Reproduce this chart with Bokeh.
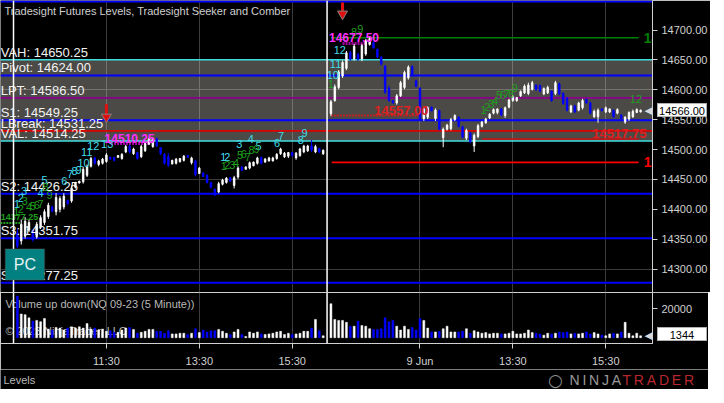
from bokeh.plotting import figure
from bokeh.models import (Range1d, FixedTicker, PrintfTickFormatter, Label, Grid,
                          BoxAnnotation, ColumnDataSource, Span, Div)
from bokeh.layouts import column
from bokeh.core.properties import value
from bokeh.embed import file_html
from bokeh.resources import INLINE

# ---------------- data ----------------
# 5-minute NQ 09-23 bars, session 1 (8 Jun) bars 1..80, session 2 (9 Jun) bars 82..162
s1_open = [14360,14347,14355,14365,14365,14354,14370,14378,14388,14404,
           14396,14400,14404,14415,14414,14437,14444,14446,14457,14472,
           14486,14475,14477,14480,14487,14487,14487,14485,14496,14506,
           14493,14495,14488,14498,14509,14505,14518,14503,14492,14488,
           14476,14477,14480,14482,14490,14478,14481,14460,14461,14457,
           14445,14434,14429,14442,14445,14453,14440,14454,14471,14467,
           14469,14473,14477,14487,14479,14481,14481,14485,14493,14488,
           14489,14495,14486,14490,14496,14498,14506,14496,14502,14493]
s1_close = [14338,14375,14380,14378,14349,14375,14386,14396,14407,14397,
            14420,14418,14422,14409,14436,14444,14447,14467,14472,14485,
            14477,14481,14484,14491,14484,14482,14490,14492,14505,14496,
            14501,14485,14505,14510,14518,14518,14506,14493,14477,14474,
            14482,14484,14485,14489,14487,14486,14458,14469,14455,14445,
            14437,14424,14443,14449,14452,14447,14453,14469,14465,14471,
            14478,14479,14486,14477,14484,14486,14486,14492,14501,14494,
            14495,14490,14494,14501,14506,14506,14499,14505,14496,14499]
s1_high = [14367,14383,14387,14383,14367,14379,14390,14400,14411,14406,
           14427,14422,14427,14416,14440,14446,14448,14471,14475,14488,
           14488,14483,14486,14494,14488,14488,14491,14494,14508,14508,
           14503,14496,14508,14512,14520,14520,14520,14504,14494,14494,
           14483,14486,14486,14491,14491,14488,14483,14471,14462,14459,
           14446,14435,14446,14451,14454,14454,14456,14472,14472,14472,
           14480,14480,14488,14488,14486,14488,14488,14494,14503,14496,
           14496,14496,14496,14503,14508,14508,14516,14508,14503,14500]
s1_low = [14335,14341,14351,14362,14346,14351,14367,14374,14384,14395,
          14390,14395,14400,14408,14411,14435,14443,14443,14454,14470,
          14475,14472,14475,14478,14483,14480,14486,14483,14494,14494,
          14491,14483,14486,14496,14508,14503,14504,14491,14475,14471,
          14475,14475,14478,14480,14486,14475,14455,14459,14454,14443,
          14435,14422,14427,14440,14443,14446,14435,14451,14464,14467,
          14467,14472,14475,14475,14478,14480,14480,14483,14491,14486,
          14486,14488,14483,14488,14494,14496,14496,14494,14494,14491]
s1_volume = [28860,16430,15980,13760,11540,11990,11100,13320,5990,5330,
             7100,6660,5330,6660,7550,6660,7550,6660,9770,5990,
             6660,5330,5990,4440,4880,3770,3770,5330,6660,7100,
             5770,3110,3770,4440,5770,5770,4440,4440,3110,4880,
             2660,2660,3110,3110,2220,3110,6220,3550,5330,4000,
             4880,4880,5770,4440,3110,2220,4000,5770,2220,890,
             4000,3110,4000,2660,2220,2660,3110,4000,4440,2220,
             3110,2220,2660,3110,4440,4440,6660,12650,4880,1330]

s2_open = [14560,14582,14604,14623,14636,14663,14652,14660,14652,14660,
           14676,14679,14668,14655,14640,14603,14582,14578,14590,14604,
           14620,14639,14615,14603,14552,14554,14571,14552,14565,14520,
           14534,14535,14550,14554,14538,14519,14528,14506,14522,14539,
           14545,14553,14561,14562,14568,14557,14571,14582,14582,14590,
           14595,14594,14601,14608,14607,14593,14595,14598,14594,14610,
           14594,14586,14563,14573,14566,14570,14584,14578,14555,14555,
           14568,14563,14563,14566,14561,14558,14546,14551,14555,14562,
           14563]
s2_close = [14580,14605,14630,14646,14662,14651,14673,14651,14674,14682,
            14686,14670,14655,14643,14596,14582,14578,14590,14612,14629,
            14638,14626,14606,14550,14568,14570,14565,14566,14534,14534,
            14541,14550,14557,14539,14521,14532,14513,14524,14540,14546,
            14551,14559,14567,14568,14558,14570,14583,14589,14587,14597,
            14606,14608,14612,14600,14598,14602,14604,14582,14612,14593,
            14577,14566,14573,14563,14578,14582,14578,14561,14564,14566,
            14565,14570,14568,14555,14567,14552,14554,14562,14564,14567,
            14566]
s2_high = [14583,14609,14633,14649,14665,14665,14677,14661,14677,14685,
           14688,14680,14669,14656,14641,14607,14583,14593,14615,14632,
           14641,14641,14617,14604,14572,14572,14572,14569,14567,14537,
           14543,14553,14559,14556,14540,14535,14529,14527,14543,14548,
           14553,14561,14569,14569,14569,14572,14585,14591,14588,14599,
           14609,14612,14615,14609,14609,14604,14607,14599,14615,14612,
           14596,14588,14575,14575,14580,14585,14585,14580,14567,14569,
           14569,14572,14569,14567,14569,14559,14556,14564,14567,14569,
           14567]
s2_low = [14556,14580,14601,14620,14633,14649,14649,14649,14648,14657,
          14674,14669,14653,14641,14593,14580,14577,14575,14588,14601,
          14617,14624,14604,14548,14548,14551,14564,14548,14532,14504,
          14532,14532,14548,14537,14519,14516,14511,14496,14519,14537,
          14543,14551,14559,14559,14556,14553,14569,14580,14580,14588,
          14593,14591,14599,14599,14596,14591,14593,14580,14591,14591,
          14575,14564,14561,14561,14564,14567,14577,14559,14553,14545,
          14564,14561,14561,14553,14559,14551,14543,14548,14553,14561,
          14562]
s2_volume = [23530,12650,11990,11990,10660,7990,
             7990,11540,8440,7990,6220,5770,5770,6220,13760,11100,
             11990,7990,5330,7990,5770,7100,5330,13320,11990,6660,
             4000,4000,4440,6220,7990,4000,4000,4000,4440,6220,
             3110,4880,4000,3110,3550,2660,3110,3110,2660,2660,
             3110,4440,2660,2660,3110,5330,3550,3110,2660,1780,
             3110,2660,3110,4000,3550,4000,2660,3110,2660,3110,
             4000,2660,3550,2660,1780,1330,2660,3110,2660,4000,
             10660,3110,1330,3110,1344]

s1_bars = list(range(1, 81))
s2_bars = list(range(82, 163))
session_breaks = [0, 81]

level_names = ["VAH", "Pivot", "LPT", "S1", "LBreak", "VAL", "S2", "S3", "S4"]
level_values = [14650.25, 14624.00, 14586.50, 14549.25, 14531.25, 14514.25,
                14426.25, 14351.75, 14277.25]
upper_level = 14748.0

time_tick_bars = [24, 48, 72, 105, 129, 153]
time_tick_labels = ["11:30", "13:30", "15:30", "9 Jun", "13:30", "15:30"]
price_ticks = [14300, 14350, 14400, 14450, 14500, 14550, 14600, 14650, 14700]
price_grid = [14300, 14450, 14600]
volume_ticks = [20000]
last_price = 14566.00
last_volume = 1344

# Seeker / Comber count annotations (bar, price)
cyan_text = ["1","2","3","4","5","6","7","8","9","10","11","12","13",
             "1","2","3","4","5","6","7","8","9","12","11","10"]
cyan_bar = [0.9,1.9,2.7,7.0,8.0,13.1,14.6,15.8,16.8,18.1,18.9,20.6,24.2,
            54.2,55.2,58.3,61.3,63.3,68.1,69.1,74.2,75.2,84.3,83.2,82.5]
cyan_price = [14409,14419,14430,14427,14449,14448,14459,14464,14466,14477,14496,14506,14509,
              14488,14488,14509,14517,14506,14511,14522,14516,14528,14666,14643,14625]
green_text = ["1","2","3","4","5","6","7","8","9",
              "1","2","3","4","5","6","7","8","9",
              "1","8","9",
              "1","2","3","4","5","6","7","8","9","12"]
green_bar = [0.7,1.9,2.9,4.0,5.0,6.0,7.0,8.3,9.3,
             54.3,55.2,56.5,57.5,58.5,59.5,60.5,61.5,62.8,
             82.0,88.0,89.6,
             121.4,122.4,123.4,124.4,125.4,126.4,127.4,128.5,129.5,160.8]
green_price = [14396,14401,14414,14404,14406,14408,14409,14437,14424,
               14472,14475,14475,14477,14491,14493,14488,14499,14501,
               14609,14696,14701,
               14567,14572,14577,14582,14591,14591,14593,14593,14603,14585]

# target / stop levels: (label, price, bar_start, bar_end)
tgt_labels = ["14377.25", "14510.25", "14677.50", "14557.00", "14517.75", "14687.25", "14478.50"]
tgt_price = [14377.25, 14510.25, 14677.50, 14557.00, 14517.75, 14687.25, 14478.50]
tgt_start = [-3.4, 25.2, 85.0, 82.0, 121.1, 82.0, 82.2]
tgt_end = [1.7, 35.0, 91.3, 105.2, 161.5, 161.5, 161.5]
tgt_text_bar = [-3.3, 30.0, 81.5, 100.2, 156.5, 162.8, 162.8]
tgt_text_price = [14387, 14519, 14687, 14565, 14527, 14687.25, 14478.5]

arrow_bar = [24, 85]
arrow_tip = [14549.5, 14722.0]
arrow_top = [14576.0, 14746.0]

# ---------------- layout constants ----------------
x_lo, x_hi = -3.36, 165.07
price_lo, price_hi = 14260.8, 14749.5
vol_lo, vol_hi = -4000, 31333
FW = 652
RB = 56
PH, VH = 292, 51
FONT = "Liberation Sans"
UP, DOWN = "#ffffff", "#0000ff"
AX = "#d0d0d0"

assert len(s1_open) == len(s1_close) == len(s1_high) == len(s1_low) == len(s1_volume) == 80
assert len(s2_open) == len(s2_close) == len(s2_high) == len(s2_low) == len(s2_volume) == 81

xs = s1_bars + s2_bars
op = s1_open + s2_open
cl = s1_close + s2_close
hi = s1_high + s2_high
lo = s1_low + s2_low
vol = s1_volume + s2_volume
col = [UP if c >= o else DOWN for o, c in zip(op, cl)]
src = ColumnDataSource(dict(x=xs, o=op, c=cl, h=hi, l=lo, v=vol, color=col,
                            top=[max(a, b) for a, b in zip(op, cl)],
                            bot=[min(a, b) for a, b in zip(op, cl)]))


def style_axis(ax):
    ax.axis_line_color = AX
    ax.major_tick_line_color = AX
    ax.major_tick_out = 5
    ax.major_tick_in = 0
    ax.minor_tick_line_color = None
    ax.major_label_text_color = AX
    ax.major_label_text_font = FONT
    ax.major_label_text_font_size = "11px"


# ---------------- price panel ----------------
p = figure(frame_width=FW, frame_height=PH, x_range=Range1d(x_lo, x_hi),
           y_range=Range1d(price_lo, price_hi), y_axis_location="right",
           x_axis_location=None, toolbar_location=None, output_backend="svg",
           min_border_left=0, min_border_right=RB, min_border_top=0, min_border_bottom=0)
p.background_fill_color = "black"
p.border_fill_color = "black"
p.outline_line_color = None
p.grid.grid_line_color = None
p.add_layout(Grid(dimension=0, ticker=FixedTicker(ticks=time_tick_bars), grid_line_color="#3c3c3c"))
p.add_layout(Grid(dimension=1, ticker=FixedTicker(ticks=price_grid), grid_line_color="#3c3c3c"))

ya = p.yaxis[0]
ya.ticker = FixedTicker(ticks=price_ticks)
ya.formatter = PrintfTickFormatter(format="%.2f")
style_axis(ya)
ya.major_label_standoff = 4

# value area zone
p.quad(left=[x_lo], right=[x_hi], bottom=[level_values[5]], top=[level_values[0]],
       fill_color="#e6e2d6", fill_alpha=0.33, line_color=None)

level_colors = {"VAH": "#40e0e0", "VAL": "#40e0e0", "Pivot": "#0000ff", "S1": "#0000ff",
                "S2": "#0000ff", "S3": "#0000ff", "S4": "#0000ff", "LPT": "#8b008b",
                "LBreak": "#dd0000"}
for n, v in zip(level_names, level_values):
    p.segment(x0=[x_lo], x1=[x_hi], y0=[v], y1=[v], line_color=level_colors[n],
              line_width=2 if level_colors[n] == "#0000ff" else 1.6)
p.segment(x0=[x_lo], x1=[x_hi], y0=[upper_level], y1=[upper_level], line_color="#0000ff", line_width=2)

# target lines
tgt_styles = [("#1e9e1e", "2 1", 2), ("#a000a0", "2 1", 3), ("#a000a0", "2 1", 3),
              ("#c02020", "2 1", 2), ("#d01010", "solid", 1.6), ("#008000", "solid", 1.6),
              ("#ff0000", "solid", 1.6)]
for (c_, d_, w_), pr, a, b in zip(tgt_styles, tgt_price, tgt_start, tgt_end):
    p.segment(x0=[a], x1=[b], y0=[pr], y1=[pr], line_color=c_, line_dash=d_, line_width=w_)

for sb in session_breaks:
    p.add_layout(Span(location=sb, dimension="height", line_color="white", line_width=1.5))

# candles
p.segment(x0="x", y0="h", x1="x", y1="l", line_color="color", line_width=1, source=src)
p.vbar(x="x", width=0.4, top="top", bottom="bot", fill_color="color", line_color="color",
       line_width=0.8, source=src)

# level labels
p.text(x=[x_lo + 0.05] * len(level_names), y=level_values,
       text=[f"{n}: {v:.2f}" for n, v in zip(level_names, level_values)],
       text_align="left", text_baseline="bottom", text_color="#f2f2f2",
       text_font=value(FONT), text_font_size="13px")

# counts
p.text(x=cyan_bar, y=cyan_price, text=cyan_text, text_align="center", text_baseline="middle",
       text_color="#40dcea", text_font=value(FONT), text_font_size="11px")
p.text(x=green_bar, y=green_price, text=green_text, text_align="center", text_baseline="middle",
       text_color="#1e9e1e", text_font=value(FONT), text_font_size="11px")

tgt_colors = ["#1e9e1e", "#ff30ff", "#ff30ff", "#e02020", "#e02020", "#008000", "#ff0000"]
tgt_align = ["left", "center", "left", "center", "center", "left", "left"]
tgt_size = ["9px", "12px", "12px", "13px", "13px", "14px", "14px"]
for t, bx, py, c_, al, fs in zip(tgt_labels, tgt_text_bar, tgt_text_price, tgt_colors, tgt_align, tgt_size):
    p.text(x=[bx], y=[py], text=[t], text_align=al, text_baseline="middle",
           text_color=c_, text_font=value(FONT), text_font_size=fs, text_font_style="bold")

# signal arrows
p.segment(x0=arrow_bar, x1=arrow_bar, y0=arrow_top, y1=[t + 8 for t in arrow_tip],
          line_color="#e01010", line_width=3)
p.scatter(x=arrow_bar, y=[t + 5 for t in arrow_tip], marker="inverted_triangle", size=10,
          fill_color="#e01010", line_color="#808080", line_width=1)

# PC button
p.add_layout(BoxAnnotation(left=-2.1, right=8.0, bottom=14281.8, top=14333.4,
                           fill_color="#008080", fill_alpha=1, line_color="#6a6a6a", line_width=1.5))
p.add_layout(Label(x=2.95, y=14307.6, text="PC", text_align="center", text_baseline="middle",
                   text_color="#e8f4f4", text_font=FONT, text_font_size="16px"))

p.add_layout(Label(x=4, y=PH - 10, x_units="screen", y_units="screen",
                   text="Tradesight Futures Levels, Tradesight Seeker and Comber",
                   text_font=FONT, text_font_size="11px", text_color="#d0d0d0",
                   text_baseline="middle"))
p.add_layout(Label(x=FW - 8, y=last_price, x_units="screen", text="\u25c0",
                   text_font="DejaVu Sans", text_font_size="11px", text_color="#d8d8d8",
                   text_baseline="middle"))

# ---------------- volume panel ----------------
pv = figure(frame_width=FW, frame_height=VH, x_range=p.x_range, y_range=Range1d(vol_lo, vol_hi),
            y_axis_location="right", toolbar_location=None, output_backend="svg",
            min_border_left=0, min_border_right=RB, min_border_top=0, min_border_bottom=24)
pv.background_fill_color = "black"
pv.border_fill_color = "black"
pv.outline_line_color = AX
pv.grid.grid_line_color = None
pv.add_layout(Grid(dimension=0, ticker=FixedTicker(ticks=time_tick_bars), grid_line_color="#3c3c3c"))

xa = pv.xaxis[0]
xa.ticker = FixedTicker(ticks=time_tick_bars)
xa.major_label_overrides = {b: l for b, l in zip(time_tick_bars, time_tick_labels)}
style_axis(xa)
xa.major_label_standoff = 6

va = pv.yaxis[0]
va.ticker = FixedTicker(ticks=volume_ticks)
va.formatter = PrintfTickFormatter(format="%d")
style_axis(va)
va.major_label_standoff = 4

pv.text(x=[-2.1, -2.1], y=[23333, 4667],
        text=["Volume up down(NQ 09-23 (5 Minute))", "\u00a9 2023 NinjaTrader, LLC"],
        text_align="left", text_baseline="middle", text_color="#b8b8b8",
        text_font=value(FONT), text_font_size="11px")
for sb in session_breaks:
    pv.add_layout(Span(location=sb, dimension="height", line_color="white", line_width=1.5))
pv.vbar(x="x", width=0.5, top="v", bottom=0, fill_color="color", line_color="color",
        line_width=0.5, source=src)
pv.add_layout(Label(x=FW - 8, y=last_volume, x_units="screen", text="\u25c0",
                    text_font="DejaVu Sans", text_font_size="11px", text_color="#d8d8d8",
                    text_baseline="middle"))

# ---------------- footer strip ----------------
TOTW = FW + RB
pb = figure(frame_width=TOTW, frame_height=20, x_range=Range1d(0, TOTW), y_range=Range1d(0, 20),
            x_axis_location=None, y_axis_location=None, toolbar_location=None,
            output_backend="svg", min_border=0)
pb.background_fill_color = "black"
pb.border_fill_color = "black"
pb.outline_line_color = None
pb.grid.grid_line_color = None
pb.text(x=[3], y=[10], text=["Levels"], text_align="left", text_baseline="middle",
        text_color="#b8b8b8", text_font=value(FONT), text_font_size="11px")
pb.text(x=[555], y=[10], text=["\u25cb"], text_align="center", text_baseline="middle",
        text_color="#8a8a8a", text_font=value("DejaVu Sans"), text_font_size="17px")
pb.text(x=[569], y=[10], text=["N\u2009I\u2009N\u2009J\u2009A"], text_align="left",
        text_baseline="middle", text_color="#9a9a9a", text_font=value(FONT), text_font_size="14px")
pb.text(x=[622], y=[10], text=["T\u2009R\u2009A\u2009D\u2009E\u2009R"], text_align="left",
        text_baseline="middle", text_color="#b8282e", text_font=value(FONT), text_font_size="14px")

# ---------------- last-value markers on the price / volume scales ----------------
def marker_div(txt, top_px):
    return Div(text=txt, styles={
        "position": "absolute", "left": f"{FW}px", "top": f"{top_px:.0f}px",
        "width": "50px", "height": "14px", "line-height": "14px",
        "background-color": "white", "color": "black", "border": "1px solid #b0b0b0",
        "font-family": FONT, "font-size": "11px", "text-align": "center",
        "z-index": "10", "overflow": "hidden"})


price_top = (price_hi - last_price) / (price_hi - price_lo) * PH - 12
vol_top = PH + (vol_hi - last_volume) / (vol_hi - vol_lo) * VH - 13

layout = column(p, pv, pb, marker_div(f"{last_price:.2f}", price_top),
                marker_div(f"{last_volume}", vol_top), spacing=0)
open("out.html", "w").write(file_html(layout, INLINE))
